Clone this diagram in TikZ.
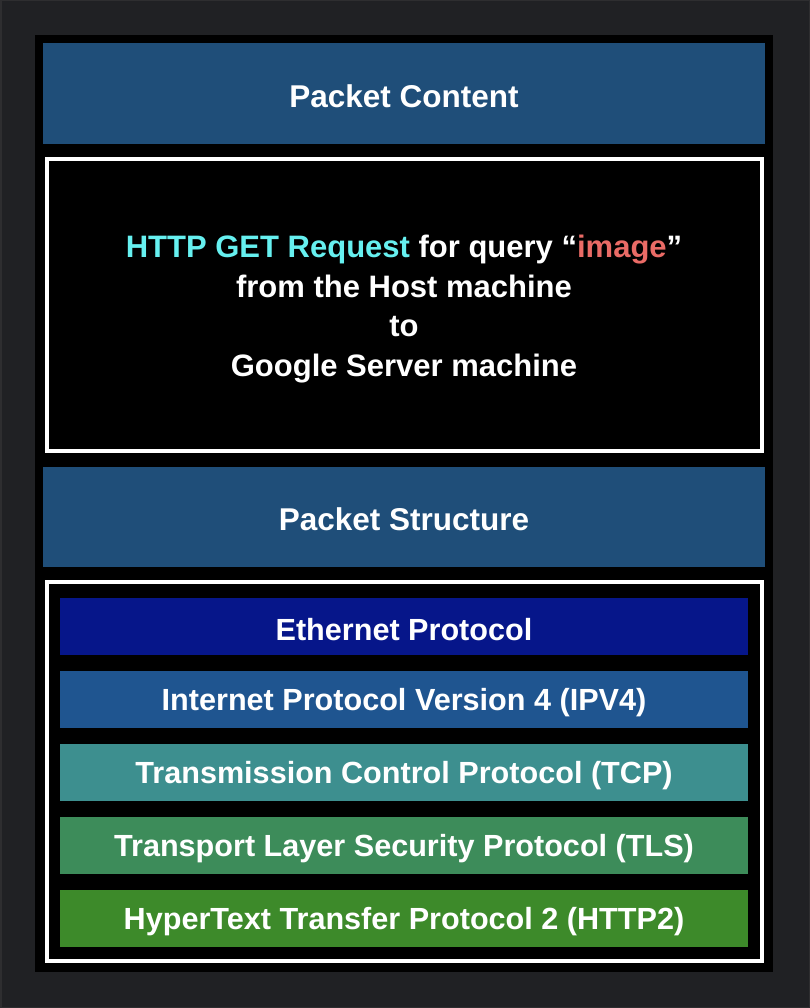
\documentclass[tikz,border=0pt]{standalone}
\usepackage{fontspec}
\setmainfont{Liberation Sans}
\definecolor{bgc}{HTML}{202124}
\definecolor{edgec}{HTML}{2E2E30}
\definecolor{hdrblue}{HTML}{1F4E79}
\definecolor{ethc}{HTML}{06168A}
\definecolor{ipc}{HTML}{1F5590}
\definecolor{tcpc}{HTML}{3D8F8F}
\definecolor{tlsc}{HTML}{3D8C5A}
\definecolor{httpc}{HTML}{3D8A2A}
\definecolor{cyanc}{HTML}{66F0F0}
\definecolor{salmonc}{HTML}{EA6B66}
\tikzset{
  hdr/.style={draw=none, text=white, font=\bfseries\fontsize{31.5}{36}\selectfont},
  framebox/.style={fill=black, draw=white, line width=4pt},
  layer/.style={draw=none, text=white, font=\bfseries\fontsize{30.6}{36}\selectfont},
  bodytext/.style={text=white, align=center, font=\bfseries\fontsize{31}{39.5}\selectfont}
}
\begin{document}
\begin{tikzpicture}[x=1pt,y=-1pt]
\useasboundingbox (0,0) rectangle (810,1008);
\fill[bgc] (0,0) rectangle (810,1008);
\draw[edgec, line width=1.5pt] (0.75,0.75) rectangle (809.25,1007.25);
\fill[black] (35,35) rectangle (773,972);
% Packet content header
\fill[hdrblue] (43,43) rectangle (765,144);
\node[hdr] (pc) at (404,96) {Packet Content};
% content frame
\draw[framebox] (46.5,159) rectangle (762,451);
\node[bodytext] (content) at (404,309) {\textcolor{cyanc}{HTTP GET Request} for query “\textcolor{salmonc}{image}”\\from the Host machine\\to\\Google Server machine};
% Packet structure header
\fill[hdrblue] (43,467) rectangle (765,567);
\node[hdr] (ps) at (404,519) {Packet Structure};
% structure frame
\draw[framebox] (46.5,582) rectangle (762,961);
% layers
\fill[ethc] (60,598) rectangle (748,655);
\node[layer] (eth) at (404,629.5) {Ethernet Protocol};
\fill[ipc] (60,671) rectangle (748,728);
\node[layer] (ip) at (404,702.5) {Internet Protocol Version 4 (IPV4)};
\fill[tcpc] (60,744) rectangle (748,801);
\node[layer] (tcp) at (404,775.5) {Transmission Control Protocol (TCP)};
\fill[tlsc] (60,817) rectangle (748,874);
\node[layer] (tls) at (404,848.5) {Transport Layer Security Protocol (TLS)};
\fill[httpc] (60,890) rectangle (748,947);
\node[layer] (http) at (404,921.5) {HyperText Transfer Protocol 2 (HTTP2)};
\end{tikzpicture}
\end{document}
